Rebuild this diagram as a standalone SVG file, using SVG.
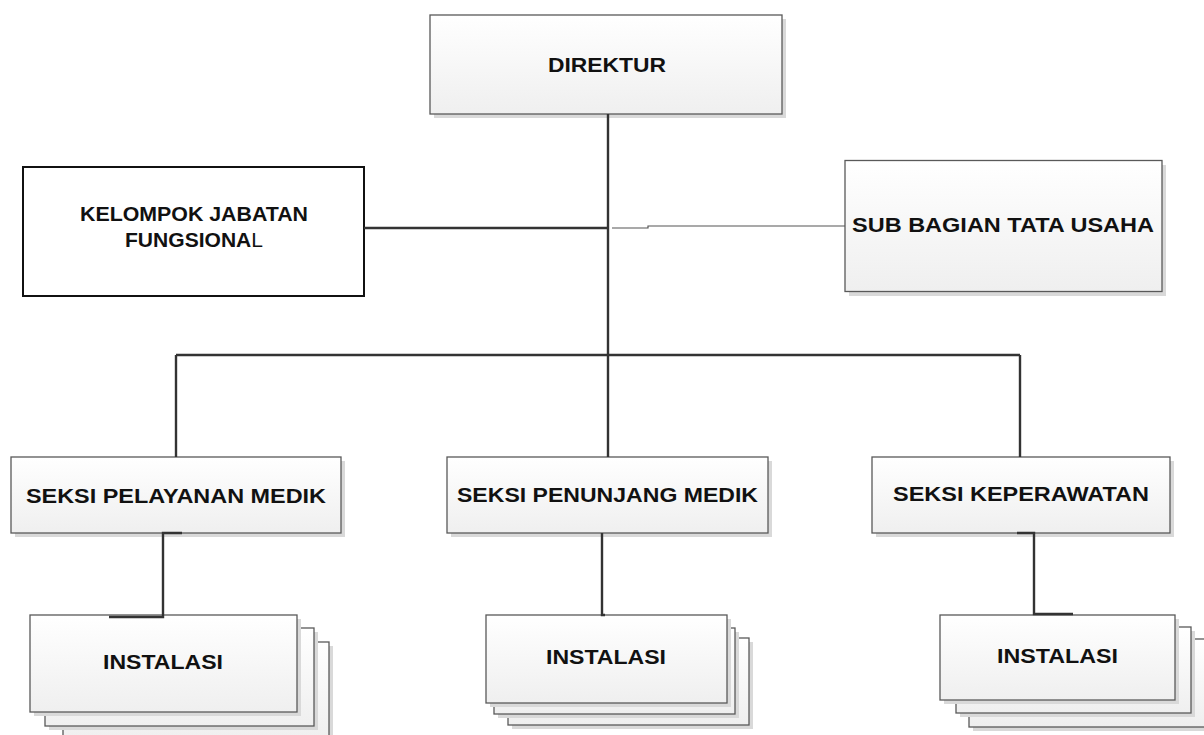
<svg xmlns="http://www.w3.org/2000/svg" width="1204" height="735" viewBox="0 0 1204 735">
<defs>
<linearGradient id="g" x1="0" y1="0" x2="0" y2="1">
<stop offset="0" stop-color="#ffffff"/>
<stop offset="1" stop-color="#efefef"/>
</linearGradient>
<style>
.box{fill:url(#g);stroke:#595959;stroke-width:1.3}
.sh{fill:#d9d9d9}
.t{font-family:"Liberation Sans",Arial,sans-serif;font-weight:bold;font-size:20.5px;fill:#111}
.c{fill:none;stroke:#333;stroke-width:2.4}
.thin{fill:none;stroke:#555;stroke-width:1.2}
</style>
</defs>
<rect width="1204" height="735" fill="#fff"/>
<g id="direktur">
<rect class="sh" x="434" y="19" width="352" height="99"/>
<rect class="box" x="430" y="15" width="352" height="99"/>
<text class="t" x="548" y="71.5" textLength="118" lengthAdjust="spacingAndGlyphs">DIREKTUR</text>
</g>
<g id="kelompok">
<rect x="23" y="167" width="341" height="129" fill="#fff" stroke="#111" stroke-width="2"/>
<text class="t" style="font-size:19.5px" x="80" y="220.5" textLength="228" lengthAdjust="spacingAndGlyphs">KELOMPOK JABATAN</text>
<text class="t" style="font-size:19.5px" x="125" y="246.5" textLength="138" lengthAdjust="spacingAndGlyphs">FUNGSIONA<tspan font-weight="normal">L</tspan></text>
</g>
<g id="subbagian">
<rect class="sh" x="849" y="165" width="317" height="131"/>
<rect class="box" x="845" y="160.5" width="317" height="131"/>
<text class="t" x="852" y="231.5" textLength="302" lengthAdjust="spacingAndGlyphs">SUB BAGIAN TATA USAHA</text>
</g>
<g id="seksi-pelayanan">
<rect class="sh" x="15" y="461" width="330" height="76"/>
<rect class="box" x="11" y="457" width="330" height="76"/>
<text class="t" x="26" y="502.5" textLength="300" lengthAdjust="spacingAndGlyphs">SEKSI PELAYANAN MEDIK</text>
</g>
<g id="seksi-penunjang">
<rect class="sh" x="451" y="461" width="321" height="76"/>
<rect class="box" x="447" y="457" width="321" height="76"/>
<text class="t" x="457" y="502" textLength="301" lengthAdjust="spacingAndGlyphs">SEKSI PENUNJANG MEDIK</text>
</g>
<g id="seksi-keperawatan">
<rect class="sh" x="876" y="461" width="298" height="76"/>
<rect class="box" x="872" y="457" width="298" height="76"/>
<text class="t" x="893" y="501" textLength="256" lengthAdjust="spacingAndGlyphs">SEKSI KEPERAWATAN</text>
</g>
<g id="instalasi-1">
<rect class="sh" x="67" y="646" width="266" height="100"/>
<rect class="box" x="63" y="642" width="266" height="100"/>
<rect class="sh" x="49" y="632" width="269" height="98"/>
<rect class="box" x="45" y="628" width="269" height="98"/>
<rect class="sh" x="34" y="619" width="267" height="97"/>
<rect class="box" x="30" y="615" width="267" height="97"/>
<text class="t" x="103" y="669" textLength="120" lengthAdjust="spacingAndGlyphs">INSTALASI</text>
</g>
<g id="instalasi-2">
<rect class="sh" x="512" y="642" width="241" height="87"/>
<rect class="box" x="508" y="638" width="241" height="87"/>
<rect class="sh" x="498" y="632" width="241" height="86"/>
<rect class="box" x="494" y="628" width="241" height="86"/>
<rect class="sh" x="490" y="619" width="241" height="88"/>
<rect class="box" x="486" y="615" width="241" height="88"/>
<text class="t" x="546" y="664" textLength="120" lengthAdjust="spacingAndGlyphs">INSTALASI</text>
</g>
<g id="instalasi-3">
<rect class="sh" x="973" y="643" width="241" height="88"/>
<rect class="box" x="969" y="639" width="241" height="88"/>
<rect class="sh" x="960" y="631" width="235" height="86"/>
<rect class="box" x="956" y="627" width="235" height="86"/>
<rect class="sh" x="944" y="619" width="235" height="85"/>
<rect class="box" x="940" y="615" width="235" height="85"/>
<text class="t" x="997" y="663" textLength="121" lengthAdjust="spacingAndGlyphs">INSTALASI</text>
</g>
<g id="connectors">
<path class="c" d="M608 114V457"/>
<path class="c" d="M364 228H608"/>
<path class="thin" d="M612 228H648V226H845"/>
<path class="c" d="M176 355H1020"/>
<path class="c" d="M176 355V457"/>
<path class="c" d="M1020 355V457"/>
<path class="c" d="M182 533H163V617H109"/>
<path class="c" d="M602 533V615H605"/>
<path class="c" d="M1017 533H1034V614H1073"/>
</g>
</svg>
